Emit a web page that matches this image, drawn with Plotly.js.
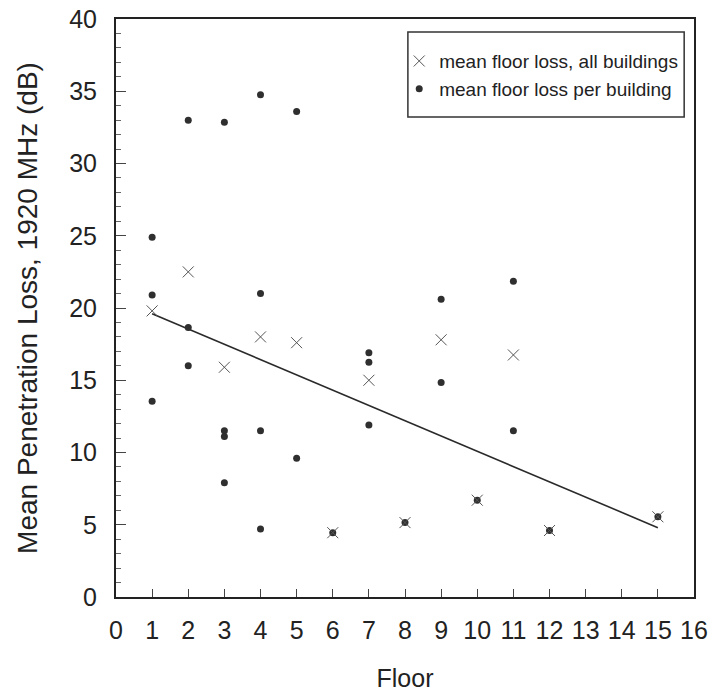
<!DOCTYPE html>
<html>
<head>
<meta charset="utf-8">
<script src="https://cdn.plot.ly/plotly-3.0.1.min.js"></script>
<style>html,body{margin:0;padding:0;background:#fff;}#chart{width:712px;height:698px;}</style>
</head>
<body>
<div id="chart"></div>
<script>
// Mean floor loss over all buildings (x markers)
const meanFloors = [1, 2, 3, 4, 5, 6, 7, 8, 9, 10, 11, 12, 15];
const meanLoss   = [19.8, 22.5, 15.9, 18.0, 17.6, 4.45, 15.0, 5.15, 17.8, 6.7, 16.75, 4.6, 5.55];

// Mean floor loss per building (dots)
const bldgFloors = [1, 1, 1, 2, 2, 2, 3, 3, 3, 3, 4, 4, 4, 4, 5, 5, 6, 7, 7, 7, 8, 9, 9, 10, 11, 11, 12, 15];
const bldgLoss   = [24.9, 20.9, 13.55, 33.0, 18.65, 16.0, 32.85, 11.5, 11.1, 7.9, 34.75, 21.0, 11.5, 4.7,
                    33.6, 9.6, 4.45, 16.9, 16.25, 11.9, 5.15, 20.6, 14.85, 6.7, 21.85, 11.5, 4.6, 5.55];

// Fitted trend line end points
const fitFloors = [1, 15];
const fitLoss   = [19.6, 4.8];

// Axis ticks
const xTicks = [0,1,2,3,4,5,6,7,8,9,10,11,12,13,14,15,16];
const yTicks = [0,5,10,15,20,25,30,35,40];

const FONT = 'Liberation Sans, Arial, Helvetica, sans-serif';

const traces = [
  {
    x: fitFloors, y: fitLoss, mode: 'lines', type: 'scatter',
    line: {color: '#2a2a2a', width: 1.6}, showlegend: false, hoverinfo: 'skip'
  },
  {
    x: bldgFloors, y: bldgLoss, mode: 'markers', type: 'scatter',
    name: 'mean floor loss per building',
    marker: {symbol: 'circle', size: 7, color: '#2f2f2f'}
  },
  {
    x: meanFloors, y: meanLoss, mode: 'markers', type: 'scatter',
    name: 'mean floor loss, all buildings',
    marker: {symbol: 'x-thin-open', size: 11, color: '#555', line: {color: '#555', width: 1}}
  }
];

const layout = {
  width: 712, height: 698,
  margin: {l: 116, r: 18, t: 19, b: 101},
  paper_bgcolor: '#fff', plot_bgcolor: '#fff',
  font: {family: FONT, color: '#222'},
  showlegend: true,
  legend: {
    x: 0.49, y: 0.960, xanchor: 'left', yanchor: 'top',
    traceorder: 'reversed',
    bgcolor: 'rgba(0,0,0,0)', borderwidth: 0,
    font: {family: FONT, size: 19, color: '#222'},
    itemwidth: 30, tracegroupgap: 0
  },
  shapes: [{
    type: 'rect', xref: 'paper', yref: 'paper',
    x0: 0.505, x1: 0.983, y0: 0.8304, y1: 0.9775,
    line: {color: '#333', width: 1.5}, fillcolor: 'rgba(0,0,0,0)'
  }],
  xaxis: {
    range: [0, 16], tickmode: 'array', tickvals: xTicks, ticktext: xTicks.map(String),
    ticks: 'inside', ticklen: 8, tickwidth: 1, tickcolor: '#444',
    showline: true, linecolor: '#222', linewidth: 2, mirror: true,
    showgrid: false, zeroline: false, automargin: false,
    tickfont: {family: FONT, size: 25, color: '#222'},
    ticklabelstandoff: 10,
    title: {text: 'Floor', font: {family: FONT, size: 25, color: '#222'}, standoff: 26}
  },
  yaxis: {
    range: [0, 40], tickmode: 'array', tickvals: yTicks, ticktext: yTicks.map(String),
    ticks: 'inside', ticklen: 10, tickwidth: 1, tickcolor: '#444',
    minor: {dtick: 1, ticks: 'inside', ticklen: 5, tickwidth: 1, tickcolor: '#666', showgrid: false},
    showline: true, linecolor: '#222', linewidth: 2, mirror: true,
    showgrid: false, zeroline: false, automargin: false,
    tickfont: {family: FONT, size: 25, color: '#222'},
    ticklabelstandoff: 12,
    title: {text: 'Mean Penetration Loss, 1920 MHz (dB)', font: {family: FONT, size: 28, color: '#222'}, standoff: 23}
  }
};

Plotly.newPlot('chart', traces, layout, {staticPlot: true, displayModeBar: false});
</script>
</body>
</html>
